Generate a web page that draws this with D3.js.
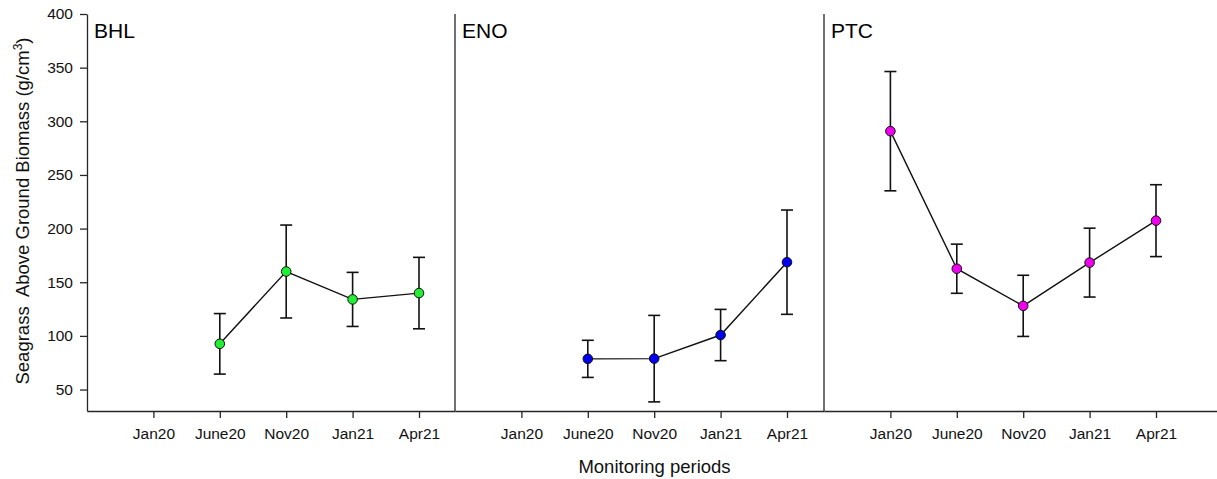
<!DOCTYPE html>
<html>
<head>
<meta charset="utf-8">
<script src="https://cdn.jsdelivr.net/npm/d3@7"></script>
<style>
    body { margin: 0; background: #fff; }
    svg { font-family: "Liberation Sans", Arial, sans-serif; }
</style>
</head>
<body>
<div id="chart"></div>
<script>
// monitoring periods (x categories) and sites (panels)
const periods = ['Jan20', 'June20', 'Nov20', 'Jan21', 'Apr21'];
const sites = ['BHL', 'ENO', 'PTC'];

// mean biomass per period, null = not sampled
const bhlMean = [null, 92.6, 160.0, 134.0, 139.9];
const enoMean = [null, 78.6, 78.8, 100.8, 168.7];
const ptcMean = [290.8, 162.6, 128.0, 168.3, 207.4];

// error bar half-lengths
const bhlErr = [null, 28.2, 43.3, 25.2, 33.3];
const enoErr = [null, 17.3, 40.3, 23.9, 48.6];
const ptcErr = [55.6, 22.9, 28.5, 32.1, 33.5];

const siteColors = ['#22ee33', '#0000ee', '#ee00ee'];
const yTicks = [50, 100, 150, 200, 250, 300, 350, 400];

const width = 1217;
const height = 479;

const svg = d3.select('#chart')
    .append('svg')
    .attr('width', width)
    .attr('height', height);

const y = d3.scaleLinear()
    .domain([30, 400])
    .range([411, 14]);

// panel extents in pixels, every panel uses the same step between periods
const panelLeft = [87, 455, 824];
const panelRight = [455, 824, 1217];
const step = 66.4;

const seriesMean = [bhlMean, enoMean, ptcMean];
const seriesErr = [bhlErr, enoErr, ptcErr];
const axisColor = '#262626';

// left axis
const leftAxis = svg.append('g')
    .attr('transform', `translate(${panelLeft[0]},0)`)
    .call(
        d3.axisLeft(y)
        .tickValues(yTicks)
        .tickSize(7)
        .tickPadding(7)
        .tickSizeOuter(0)
    );
leftAxis.selectAll('path, line')
    .attr('stroke', axisColor)
    .attr('stroke-width', 1.3);
leftAxis.selectAll('text')
    .attr('font-size', 15.5)
    .attr('font-family', '"Liberation Sans", Arial, sans-serif')
    .attr('fill', '#111');

sites.forEach((site, s) => {
    const x = d3.scaleLinear()
        .domain([-1, -1 + (panelRight[s] - panelLeft[s]) / step])
        .range([panelLeft[s], panelRight[s]]);

    const panel = svg.append('g').attr('class', 'panel');

    // bottom axis for this panel
    const bottom = panel.append('g')
        .attr('transform', `translate(0,${y(30)})`)
        .call(
            d3.axisBottom(x)
            .tickValues(d3.range(periods.length))
            .tickFormat(i => periods[i])
            .tickSize(7)
            .tickPadding(9.5)
            .tickSizeOuter(0)
        );
    bottom.selectAll('path, line')
        .attr('stroke', axisColor)
        .attr('stroke-width', 1.3);
    bottom.selectAll('text')
        .attr('font-size', 15.5)
        .attr('font-family', '"Liberation Sans", Arial, sans-serif')
        .attr('fill', '#111');

    // divider line between panels
    if (s > 0) {
        panel.append('line')
            .attr('x1', panelLeft[s])
            .attr('x2', panelLeft[s])
            .attr('y1', y(400))
            .attr('y2', y(30))
            .attr('stroke', axisColor)
            .attr('stroke-width', 1.3);
    }

    panel.append('text')
        .attr('x', panelLeft[s] + 7)
        .attr('y', 38)
        .attr('font-size', 21)
        .attr('fill', '#000')
        .text(site);

    const data = periods.map((p, i) => ({
        i: i,
        mean: seriesMean[s][i],
        err: seriesErr[s][i]
    })).filter(d => d.mean !== null);

    // error bars
    const bars = panel.selectAll('g.err')
        .data(data)
        .join('g')
        .attr('class', 'err')
        .attr('stroke', '#111')
        .attr('stroke-width', 1.6);
    bars.append('line')
        .attr('x1', d => x(d.i))
        .attr('x2', d => x(d.i))
        .attr('y1', d => y(d.mean + d.err))
        .attr('y2', d => y(d.mean - d.err));
    bars.append('line')
        .attr('x1', d => x(d.i) - 6)
        .attr('x2', d => x(d.i) + 6)
        .attr('y1', d => y(d.mean + d.err))
        .attr('y2', d => y(d.mean + d.err));
    bars.append('line')
        .attr('x1', d => x(d.i) - 6)
        .attr('x2', d => x(d.i) + 6)
        .attr('y1', d => y(d.mean - d.err))
        .attr('y2', d => y(d.mean - d.err));

    // connecting line
    const line = d3.line()
        .x(d => x(d.i))
        .y(d => y(d.mean));
    panel.append('path')
        .datum(data)
        .attr('d', line)
        .attr('fill', 'none')
        .attr('stroke', '#111')
        .attr('stroke-width', 1.4);

    // markers
    panel.selectAll('circle')
        .data(data)
        .join('circle')
        .attr('cx', d => x(d.i))
        .attr('cy', d => y(d.mean))
        .attr('r', 4.8)
        .attr('fill', siteColors[s])
        .attr('stroke', '#111')
        .attr('stroke-width', 1);
});

// axis titles
const yTitle = svg.append('text')
    .attr('transform', 'translate(29,211) rotate(-90)')
    .attr('text-anchor', 'middle')
    .attr('font-size', 18.5)
    .attr('fill', '#111')
    .style('white-space', 'pre');
yTitle.append('tspan').text('Seagrass  Above Ground Biomass (g/cm');
yTitle.append('tspan').attr('dy', -7).attr('font-size', 12).text('3');
yTitle.append('tspan').attr('dy', 7).text(')');

svg.append('text')
    .attr('x', 654.5)
    .attr('y', 472.5)
    .attr('text-anchor', 'middle')
    .attr('font-size', 18.5)
    .attr('fill', '#111')
    .text('Monitoring periods');
</script>
</body>
</html>
